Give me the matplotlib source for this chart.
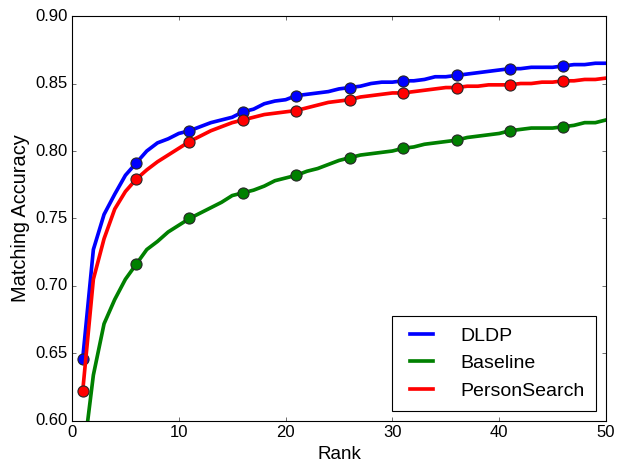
import numpy as np
import matplotlib
matplotlib.use("Agg")
import matplotlib.pyplot as plt

plt.style.use("classic")
plt.rcParams["font.family"] = ["Liberation Sans", "DejaVu Sans"]

ranks = np.arange(1, 51)

dldp = [0.646, 0.727, 0.753, 0.768, 0.782, 0.791, 0.800, 0.806, 0.809, 0.813,
        0.815, 0.818, 0.821, 0.823, 0.825, 0.829, 0.831, 0.835, 0.837, 0.838,
        0.841, 0.842, 0.843, 0.844, 0.846, 0.847, 0.848, 0.850, 0.851, 0.851,
        0.852, 0.852, 0.853, 0.855, 0.855, 0.856, 0.857, 0.858, 0.859, 0.860,
        0.861, 0.861, 0.862, 0.862, 0.862, 0.863, 0.864, 0.864, 0.865, 0.865]

baseline = [0.570, 0.634, 0.672, 0.690, 0.705, 0.716, 0.727, 0.733, 0.740, 0.745,
            0.750, 0.754, 0.758, 0.762, 0.767, 0.769, 0.771, 0.774, 0.778, 0.780,
            0.782, 0.785, 0.787, 0.790, 0.793, 0.795, 0.797, 0.798, 0.799, 0.800,
            0.802, 0.803, 0.805, 0.806, 0.807, 0.808, 0.810, 0.811, 0.812, 0.813,
            0.815, 0.816, 0.817, 0.817, 0.817, 0.818, 0.819, 0.821, 0.821, 0.823]

person_search = [0.622, 0.705, 0.735, 0.757, 0.770, 0.779, 0.786, 0.792, 0.797, 0.802,
                 0.807, 0.811, 0.815, 0.818, 0.821, 0.823, 0.825, 0.827, 0.828, 0.829,
                 0.830, 0.832, 0.834, 0.836, 0.837, 0.838, 0.840, 0.841, 0.842, 0.843,
                 0.843, 0.844, 0.845, 0.846, 0.847, 0.847, 0.848, 0.848, 0.849, 0.849,
                 0.849, 0.850, 0.850, 0.851, 0.851, 0.852, 0.852, 0.853, 0.853, 0.854]

series = [("DLDP", dldp, "b"), ("Baseline", baseline, "g"), ("PersonSearch", person_search, "r")]

fig = plt.figure(figsize=(7.8, 5.8), dpi=80)
ax = fig.add_axes([0.1154, 0.0927, 0.8558, 0.8728])

for name, vals, c in series:
    ax.plot(ranks, vals, color=c, lw=3.3, label=name)
    ax.plot(ranks[::5], np.array(vals)[::5], "o", color=c, ms=10, mec="0.15", mew=1)

ax.set_xlim(0, 50)
ax.set_ylim(0.60, 0.90)
ax.set_yticks(np.arange(0.60, 0.901, 0.05))
ax.tick_params(labelsize=15)
ax.set_xlabel("Rank", fontsize=17)
ax.set_ylabel("Matching Accuracy", fontsize=18)
ax.legend(loc="lower right", fontsize=17.5, handlelength=1.8, handletextpad=1.1,
          labelspacing=0.5, borderpad=0.6)

fig.savefig("out.png", dpi=80)
